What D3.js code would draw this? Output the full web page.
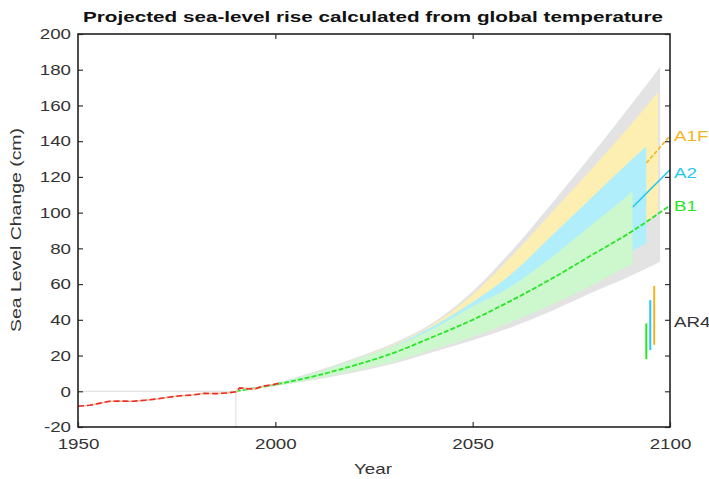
<!DOCTYPE html>
<html>
<head>
<meta charset="utf-8">
<script src="https://cdn.jsdelivr.net/npm/d3@7"></script>
<style>
  body { margin: 0; background: #fff; }
  text { font-family: "Liberation Sans", Arial, sans-serif; }
</style>
</head>
<body>
<script>
// observed sea level (red)
var obsYears = [1950, 1953, 1956, 1958, 1961, 1964, 1967, 1970, 1973, 1976, 1979, 1982, 1985, 1988, 1990, 1991, 1993, 1995, 1997, 1999, 2001];
var obsValues = [-8.4, -7.8, -6.5, -5.6, -5.5, -5.6, -5, -4.3, -3.3, -2.5, -2.1, -1.2, -1.3, -0.9, -0.3, 1.9, 1.4, 1.5, 3.0, 3.5, 4.5];

// full range (grey)
var grayYears = [1990, 2000, 2010, 2020, 2030, 2040, 2050, 2060, 2070, 2080, 2090, 2097.5];
var grayLo = [0, 3, 6.5, 10.5, 15.5, 22, 28.5, 36, 45, 55, 64.5, 72.5];
var grayHi = [0, 4.5, 11, 18.5, 27, 38.5, 56, 79, 105, 132, 160, 181.5];

// A1FI
var a1fiYears = [1990, 2000, 2010, 2020, 2030, 2040, 2050, 2060, 2070, 2080, 2090, 2097];
var a1fiLo = [0, 3.2, 8, 13.5, 20, 27, 35, 45, 56, 69, 85, 101];
var a1fiHi = [0, 4.4, 10.5, 17.8, 26, 37.5, 54, 76, 100, 124, 149, 167.5];

// A2
var a2Years = [1990, 2000, 2010, 2020, 2030, 2040, 2050, 2060, 2070, 2080, 2090, 2094];
var a2Lo = [0, 3.2, 7.5, 13, 19, 25.5, 33, 42, 52.5, 64.5, 78, 83];
var a2Hi = [0, 4.3, 10.2, 17.6, 25.5, 36.5, 50, 66, 87, 108, 129, 137];

// B1
var b1Years = [1990, 2000, 2010, 2020, 2030, 2040, 2050, 2060, 2070, 2080, 2090, 2090.5];
var b1Lo = [0, 3, 7, 11.5, 16.5, 23.5, 30.5, 39, 48.5, 59, 70.5, 71];
var b1Hi = [0, 4.2, 10, 17.5, 25, 35, 47.5, 59, 75, 93, 111, 112];

// central lines
var b1LineYears = [1990, 2000, 2010, 2020, 2030, 2040, 2050, 2060, 2070, 2080, 2090, 2100];
var b1LineValues = [0, 3.8, 8.5, 14.5, 21.5, 30.5, 40, 51, 63, 76, 89, 104];
var a2LineYears = [2090.5, 2100];
var a2LineValues = [103, 124];
var a1fiLineYears = [2094, 2100];
var a1fiLineValues = [127.8, 143];

// AR4 ranges
var ar4Names = ["B1", "A2", "A1FI"];
var ar4Years = [2094, 2095, 2096];
var ar4Lo = [18, 23, 26];
var ar4Hi = [38, 51, 59];

var scenNames = ["A1FI", "A2", "B1"];
var scenLabelValues = [143, 122.6, 104];

var yTicks = [-20, 0, 20, 40, 60, 80, 100, 120, 140, 160, 180, 200];
var xTicks = [1950, 2000, 2050, 2100];

var colors = {
    gray: "#e3e3e3",
    A1FI: "#fdeeb2", A2: "#b0eefb", B1: "#cdf8cd",
    A1FIline: "#f4b41c", A2line: "#25c8ee", B1line: "#26e626"
};

var width = 709, height = 479;
var svg = d3.select("body").append("svg")
    .attr("width", width)
    .attr("height", height);

var x = d3.scaleLinear().domain([1950, 2100]).range([78, 670]);
var y = d3.scaleLinear().domain([-20, 200]).range([427, 34]);

function zip(xs, ys) {
    return xs.map(function(v, i) { return [v, ys[i]]; });
}
function band(xs, lo, hi) {
    return xs.map(function(v, i) { return {x: v, lo: lo[i], hi: hi[i]}; });
}

var area = d3.area()
    .x(function(d) { return x(d.x); })
    .y0(function(d) { return y(d.lo); })
    .y1(function(d) { return y(d.hi); })
    .curve(d3.curveMonotoneX);

var line = d3.line()
    .x(function(d) { return x(d[0]); })
    .y(function(d) { return y(d[1]); })
    .curve(d3.curveMonotoneX);

// reference lines at 1990 / 0
svg.append("line")
    .attr("x1", x(1950)).attr("x2", x(1990))
    .attr("y1", y(0)).attr("y2", y(0))
    .attr("stroke", "#dcdcdc").attr("stroke-width", 1);
svg.append("line")
    .attr("x1", x(1990)).attr("x2", x(1990))
    .attr("y1", y(0)).attr("y2", y(-20))
    .attr("stroke", "#dcdcdc").attr("stroke-width", 1);

// bands, each scenario line drawn after its band
svg.append("path").datum(band(grayYears, grayLo, grayHi))
    .attr("d", area).attr("fill", colors.gray);
svg.append("path").datum(band(a1fiYears, a1fiLo, a1fiHi))
    .attr("d", area).attr("fill", colors.A1FI);
svg.append("path").datum(zip(a1fiLineYears, a1fiLineValues))
    .attr("d", line).attr("fill", "none")
    .attr("stroke", colors.A1FIline).attr("stroke-width", 1.6)
    .attr("stroke-dasharray", "4,2");
svg.append("path").datum(band(a2Years, a2Lo, a2Hi))
    .attr("d", area).attr("fill", colors.A2);
svg.append("path").datum(zip(a2LineYears, a2LineValues))
    .attr("d", line).attr("fill", "none")
    .attr("stroke", colors.A2line).attr("stroke-width", 1.6);
svg.append("path").datum(band(b1Years, b1Lo, b1Hi))
    .attr("d", area).attr("fill", colors.B1);
svg.append("path").datum(zip(b1LineYears, b1LineValues))
    .attr("d", line).attr("fill", "none")
    .attr("stroke", colors.B1line).attr("stroke-width", 1.8)
    .attr("stroke-dasharray", "5,2");

// observations
var obs = zip(obsYears, obsValues);
var obsLine = d3.line()
    .x(function(d) { return x(d[0]); })
    .y(function(d) { return y(d[1]); });
svg.append("path").datum(obs)
    .attr("d", obsLine).attr("fill", "none")
    .attr("stroke", "#f2c6a6").attr("stroke-width", 1.6);
svg.append("path").datum(obs)
    .attr("d", obsLine).attr("fill", "none")
    .attr("stroke", "#ee2a2a").attr("stroke-width", 1.6)
    .attr("stroke-dasharray", "6,3");

// AR4 bars
svg.selectAll(".ar4")
    .data(ar4Names)
    .enter().append("line")
    .attr("class", "ar4")
    .attr("x1", function(d, i) { return x(ar4Years[i]); })
    .attr("x2", function(d, i) { return x(ar4Years[i]); })
    .attr("y1", function(d, i) { return y(ar4Lo[i]); })
    .attr("y2", function(d, i) { return y(ar4Hi[i]); })
    .attr("stroke", function(d) { return colors[d + "line"]; })
    .attr("stroke-width", 2);

// axes
var plain = function(d) { return String(d); };
var gLeft = svg.append("g")
    .attr("transform", "translate(" + x(1950) + ",0)")
    .call(d3.axisLeft(y).tickValues(yTicks).tickSize(-5).tickPadding(7).tickFormat(plain));
var gRight = svg.append("g")
    .attr("transform", "translate(" + x(2100) + ",0)")
    .call(d3.axisRight(y).tickValues(yTicks).tickSize(-5).tickFormat(""));
var gBottom = svg.append("g")
    .attr("transform", "translate(0," + y(-20) + ")")
    .call(d3.axisBottom(x).tickValues(xTicks).tickSize(-5).tickPadding(11).tickFormat(plain));
var gTop = svg.append("g")
    .attr("transform", "translate(0," + y(200) + ")")
    .call(d3.axisTop(x).tickValues([2000, 2050]).tickSize(-5).tickFormat(""));

[gLeft, gRight, gBottom, gTop].forEach(function(g) {
    g.select(".domain").remove();
    g.selectAll(".tick line").attr("stroke", "#333").attr("stroke-width", 1.2);
    g.selectAll(".tick text")
        .attr("font-family", "Liberation Sans, Arial, sans-serif")
        .attr("font-size", 15)
        .attr("fill", "#333");
});

svg.append("rect")
    .attr("x", x(1950)).attr("y", y(200))
    .attr("width", x(2100) - x(1950))
    .attr("height", y(-20) - y(200))
    .attr("fill", "none")
    .attr("stroke", "#222").attr("stroke-width", 1.6);

// scenario labels
svg.selectAll(".scen")
    .data(scenNames)
    .enter().append("text")
    .attr("class", "scen stretch")
    .attr("x", x(2100) + 4)
    .attr("y", function(d, i) { return y(scenLabelValues[i]); })
    .attr("dy", "0.36em")
    .attr("font-size", 15)
    .attr("fill", function(d) { return colors[d + "line"]; })
    .text(function(d) { return d; });

svg.append("text")
    .attr("class", "stretch")
    .attr("x", x(2100) + 4)
    .attr("y", y(39))
    .attr("dy", "0.36em")
    .attr("font-size", 15)
    .attr("fill", "#333")
    .text("AR4");

// titles
svg.append("text")
    .attr("x", 373).attr("y", 22)
    .attr("text-anchor", "middle")
    .attr("font-size", 15)
    .attr("font-weight", "bold")
    .attr("fill", "#111")
    .attr("textLength", 580)
    .attr("lengthAdjust", "spacingAndGlyphs")
    .text("Projected sea-level rise calculated from global temperature");

svg.append("text")
    .attr("class", "stretch")
    .attr("x", 373).attr("y", 474)
    .attr("text-anchor", "middle")
    .attr("font-size", 15)
    .attr("fill", "#333")
    .text("Year");

svg.append("text")
    .attr("transform", "translate(21,230) rotate(-90)")
    .attr("text-anchor", "middle")
    .attr("font-size", 15)
    .attr("fill", "#333")
    .attr("textLength", 204)
    .attr("lengthAdjust", "spacingAndGlyphs")
    .text("Sea Level Change (cm)");

// widen glyphs to match the reference's wide lettering
svg.selectAll(".tick text, text.stretch").each(function() {
    var w = this.getComputedTextLength();
    if (w > 0) {
        d3.select(this)
            .attr("textLength", w * 1.25)
            .attr("lengthAdjust", "spacingAndGlyphs");
    }
});
</script>
</body>
</html>
